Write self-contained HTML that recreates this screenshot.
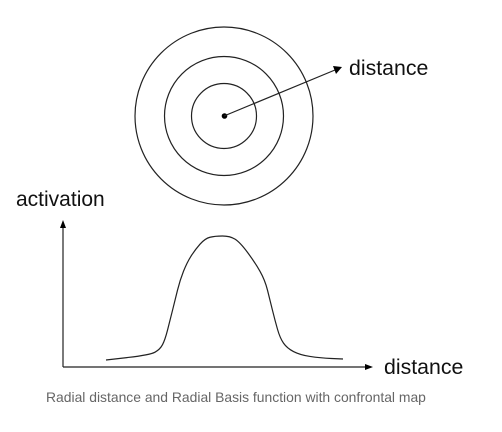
<!DOCTYPE html>
<html><head><meta charset="utf-8"><style>
html,body{margin:0;padding:0;background:#fff;}
svg{display:block;font-family:"Liberation Sans",Arial,sans-serif;}
</style></head><body>
<svg id="chart" width="502" height="432" viewBox="0 0 502 432">
<g fill="none" stroke="#222" stroke-width="1.2">
<circle cx="224" cy="116" r="89"/>
<circle cx="224" cy="116" r="59.5"/>
<circle cx="224" cy="116" r="32.5"/>
</g>
<circle cx="224.5" cy="116" r="2.8" fill="#000"/>
<line x1="224" y1="116" x2="335" y2="70" stroke="#222" stroke-width="1.2"/>
<polygon points="342,67 333,66 336,74" fill="#000"/>
<text x="349" y="75" font-size="21.3" fill="#111">distance</text>
<text x="16" y="206" font-size="21" fill="#111">activation</text>
<line x1="63" y1="367" x2="63" y2="227" stroke="#222" stroke-width="1.2"/>
<polygon points="63,220 60,228 66,228" fill="#000"/>
<line x1="63" y1="367" x2="366" y2="367" stroke="#222" stroke-width="1.2"/>
<polygon points="373,367 365,364 365,370" fill="#000"/>
<text x="384" y="374" font-size="21.3" fill="#111">distance</text>
<path id="curve" fill="none" stroke="#222" stroke-width="1.2"/>
<text x="46" y="402" font-size="13.9" fill="#666">Radial distance and Radial Basis function with confrontal map</text>
</svg>
<script>
const distances = [0, 44, 54, 59, 64, 69, 74, 81, 89, 99, 109, 124, 134, 149, 159, 164, 169, 174, 181, 194, 214, 237];
const activations = [0.016, 0.056, 0.10, 0.175, 0.33, 0.49, 0.65, 0.79, 0.89, 0.98, 1.0, 1.0, 0.95, 0.79, 0.65, 0.49, 0.33, 0.19, 0.11, 0.056, 0.032, 0.024];
const xAxis = d => 106 + d;
const yAxis = a => 362 - a * 126;
let d = '';
for (let i = 0; i < distances.length; i++) {
  const x = xAxis(distances[i]), y = yAxis(activations[i]);
  if (i === 0) { d += 'M' + x + ' ' + y; }
  else {
    const px = xAxis(distances[i-1]), py = yAxis(activations[i-1]);
    const mx = (px + x) / 2, my = (py + y) / 2;
    d += ' Q' + px + ' ' + py + ' ' + mx + ' ' + my;
  }
}
d += ' L' + xAxis(distances[distances.length-1]) + ' ' + yAxis(activations[activations.length-1]);
document.getElementById('curve').setAttribute('d', d);
</script>
</body></html>
